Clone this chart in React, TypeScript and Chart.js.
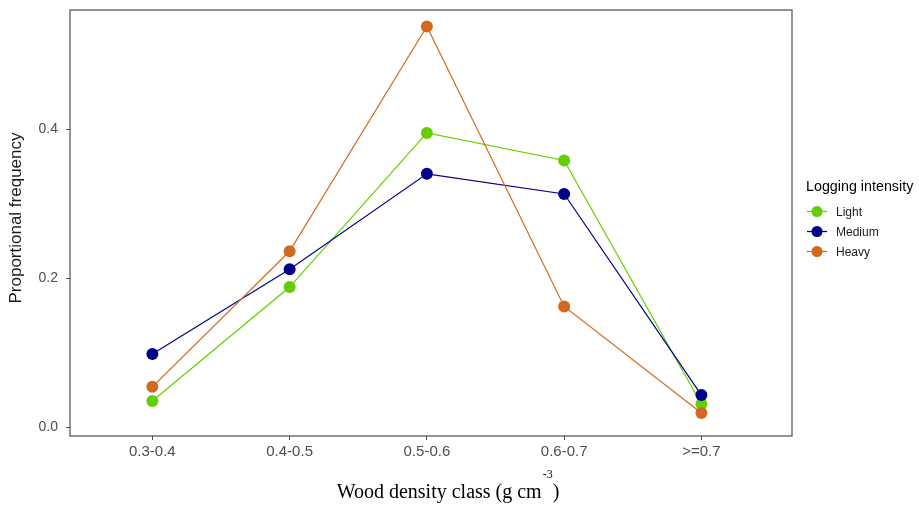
import React, { useEffect, useRef } from "react";
import { Chart, registerables } from "chart.js";

Chart.register(...registerables);

const categories = ["0.3-0.4", "0.4-0.5", "0.5-0.6", "0.6-0.7", ">=0.7"];
const seriesNames = ["Light", "Medium", "Heavy"];
const lightValues = [0.035, 0.188, 0.395, 0.358, 0.031];
const mediumValues = [0.098, 0.212, 0.34, 0.313, 0.043];
const heavyValues = [0.054, 0.236, 0.538, 0.162, 0.019];
const yTickValues = [0, 0.2, 0.4];
const seriesColors = ["#66CD00", "#00008B", "#D2691E"];

const legendTitle = "Logging intensity";
const yTitle = "Proportional frequency";
const xTitleMain = "Wood density class (g cm";
const xTitleSup = "-3";
const xTitleEnd = ")";

const decorPlugin = {
  id: "decor",
  afterDraw(chart: any) {
    const ctx = chart.ctx;
    const a = chart.chartArea;
    ctx.save();
    // panel border
    ctx.strokeStyle = "#4d4d4d";
    ctx.lineWidth = 1.2;
    ctx.strokeRect(a.left, a.top, a.right - a.left, a.bottom - a.top);

    // y title
    ctx.fillStyle = "#1a1a1a";
    ctx.font = "17px 'Liberation Sans', Arial, sans-serif";
    ctx.textAlign = "center";
    ctx.textBaseline = "middle";
    ctx.translate(16, 218);
    ctx.rotate(-Math.PI / 2);
    ctx.fillText(yTitle, 0, 0);
    ctx.setTransform(1, 0, 0, 1, 0, 0);

    // x title with superscript
    ctx.fillStyle = "#000";
    ctx.font = "20px 'Liberation Serif', 'DejaVu Serif', serif";
    ctx.textAlign = "left";
    ctx.textBaseline = "alphabetic";
    const mainW = ctx.measureText(xTitleMain).width;
    const gap = 11;
    const endW = ctx.measureText(xTitleEnd).width;
    const total = mainW + gap + endW;
    const cx = 448;
    const x0 = cx - total / 2;
    const base = 498;
    ctx.fillText(xTitleMain, x0, base);
    ctx.fillText(xTitleEnd, x0 + mainW + gap, base);
    ctx.font = "12px 'Liberation Serif', 'DejaVu Serif', serif";
    ctx.fillText(xTitleSup, x0 + mainW + 1, base - 20);

    // legend
    ctx.font = "14.3px 'Liberation Sans', Arial, sans-serif";
    ctx.fillStyle = "#000";
    ctx.textBaseline = "middle";
    ctx.fillText(legendTitle, 806, 187);
    ctx.font = "12px 'Liberation Sans', Arial, sans-serif";
    chart.data.datasets.forEach((ds: any, i: number) => {
      const y = 211.5 + i * 20;
      ctx.strokeStyle = ds.borderColor;
      ctx.lineWidth = 1.3;
      ctx.beginPath();
      ctx.moveTo(807, y);
      ctx.lineTo(827, y);
      ctx.stroke();
      ctx.fillStyle = ds.backgroundColor;
      ctx.beginPath();
      ctx.arc(817, y, 5.5, 0, Math.PI * 2);
      ctx.fill();
      ctx.fillStyle = "#1a1a1a";
      ctx.fillText(ds.label, 836, y + 1);
    });
    ctx.restore();
  },
};

const fixPadding = (s: any) => {
  s.paddingTop = 0;
  s.paddingBottom = 0;
  s.paddingLeft = 0;
  s.paddingRight = 0;
};

export default function App() {
  const ref = useRef<HTMLCanvasElement | null>(null);
  useEffect(() => {
    if (!ref.current) return;
    const seriesValues = [lightValues, mediumValues, heavyValues];
    const chart = new Chart(ref.current, {
      type: "line",
      data: {
        datasets: seriesNames.map((name, i) => ({
          label: name,
          data: seriesValues[i].map((v, j) => ({ x: j, y: v })),
          borderColor: seriesColors[i],
          backgroundColor: seriesColors[i],
          pointBackgroundColor: seriesColors[i],
          pointBorderColor: seriesColors[i],
          pointRadius: 6,
          pointBorderWidth: 0,
          borderWidth: 1.2,
          tension: 0,
          order: 3 - i,
        })),
      },
      options: {
        animation: false,
        responsive: false,
        events: [],
        layout: { padding: { left: 0, top: 10, right: 127, bottom: 0 } },
        plugins: { legend: { display: false }, tooltip: { enabled: false } },
        scales: {
          x: {
            type: "linear",
            min: -0.6,
            max: 4.66,
            afterBuildTicks: (s: any) => {
              s.ticks = categories.map((_, i) => ({ value: i }));
            },
            afterFit: (s: any) => {
              s.height = 70;
              fixPadding(s);
            },
            ticks: {
              callback: (v: any) => categories[v] ?? "",
              color: "#4d4d4d",
              font: { family: "'Liberation Sans', Arial, sans-serif", size: 15 },
              padding: 3,
              maxRotation: 0,
            },
            grid: {
              display: true,
              drawOnChartArea: false,
              tickLength: 4,
              color: "#4d4d4d",
            },
            border: { display: false },
          },
          y: {
            type: "linear",
            min: -0.012,
            max: 0.56,
            afterBuildTicks: (s: any) => {
              s.ticks = yTickValues.map((v) => ({ value: v }));
            },
            afterFit: (s: any) => {
              s.width = 70;
              fixPadding(s);
            },
            ticks: {
              callback: (v: any) => Number(v).toFixed(1),
              color: "#4d4d4d",
              font: { family: "'Liberation Sans', Arial, sans-serif", size: 14 },
              padding: 8,
            },
            grid: {
              display: true,
              drawOnChartArea: false,
              tickLength: 4,
              color: "#4d4d4d",
            },
            border: { display: false },
          },
        },
      },
      plugins: [decorPlugin],
    } as any);
    return () => chart.destroy();
  }, []);
  return (
    <div style={{ position: "absolute", left: 0, top: 0, width: 919, height: 506, background: "#fff" }}>
      <canvas ref={ref} width={919} height={506} />
    </div>
  );
}
